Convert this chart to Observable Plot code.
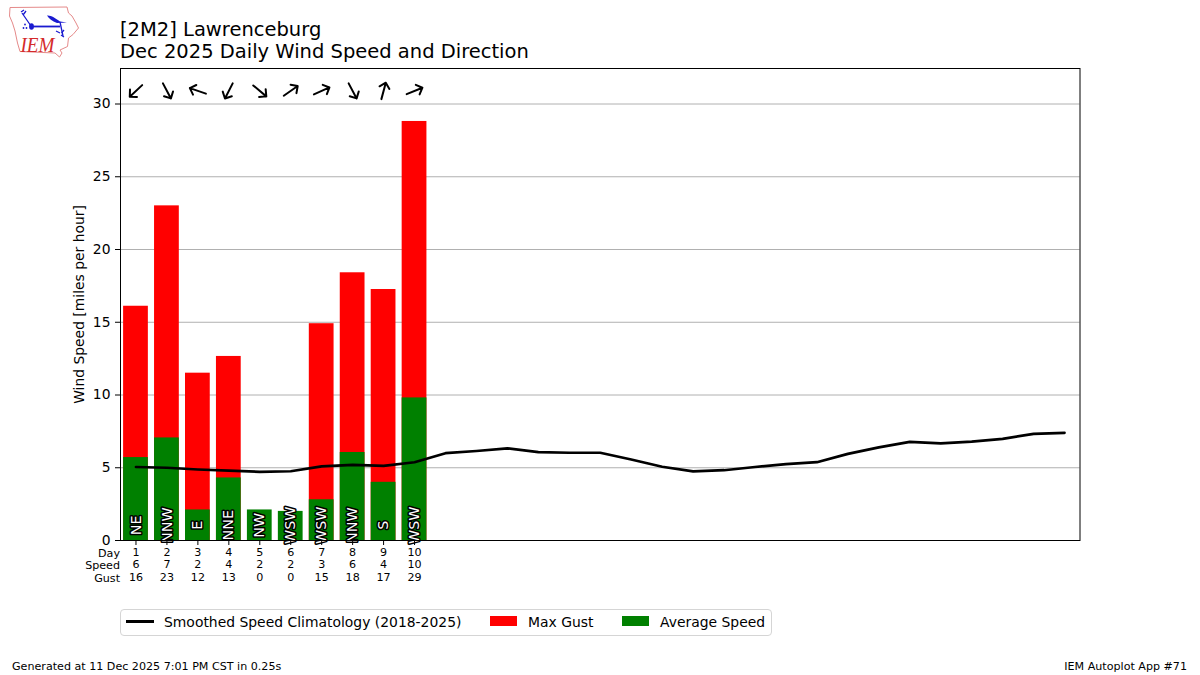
<!DOCTYPE html>
<html>
<head>
<meta charset="utf-8">
<script src="https://cdn.jsdelivr.net/npm/d3@7"></script>
<script src="https://cdn.jsdelivr.net/npm/@observablehq/plot@0.6"></script>
<style>
html,body{margin:0;padding:0;background:#fff;width:1200px;height:675px;overflow:hidden;font-family:"DejaVu Sans",sans-serif;color:#000}
#chart{position:absolute;left:0;top:0}
#chart svg{font-family:"DejaVu Sans",sans-serif;background:transparent;overflow:visible}
#title{position:absolute;left:120px;top:19px;font-size:19.5px;line-height:22px;white-space:nowrap}
#legend{position:absolute;left:120px;top:609px;width:650px;height:25px;border:1px solid #d5d5d5;border-radius:4px;background:#fff;font-size:13.92px;box-sizing:content-box}
#legend span{position:absolute;top:0;line-height:24px;white-space:nowrap}
#legend i{position:absolute;display:block}
.foot{position:absolute;top:660px;font-size:11.11px;line-height:13px;white-space:nowrap}
#logo{position:absolute;left:0;top:0}
</style>
</head>
<body>
<div id="chart"></div>
<svg id="logo" width="90" height="62" viewBox="0 0 90 62">
  <path d="M10 7.5L67 7L68.5 13L72 16L76 23L78.5 28L73 34.5L68.5 38L67.5 46.5L60 50L62 53L59.5 57L55 53L20 51.5L17.5 43L15 31L12.5 23L9.5 16Z" fill="#fff" stroke="#e58a8a" stroke-width="1"/>
  <path d="M22 13L31 26M23 15L26 11M21 12L24 10M60 22L63 36" fill="none" stroke="#1a1ad0" stroke-width="1.3"/>
  <path d="M31 26.5H60" fill="none" stroke="#1a1ad0" stroke-width="1.8"/>
  <ellipse cx="31.5" cy="26.5" rx="2.4" ry="3.2" fill="#1a1ad0"/>
  <path d="M47 15.5C51 15 55 18 60 21.5L67 22.5L57 23C52 21.5 49 18.5 47 15.5Z" fill="#1a1ad0"/>
  <path d="M56 31L60 33M64 30L61.5 33M61 35L64 37" fill="none" stroke="#1a1ad0" stroke-width="1.2"/>
  <circle cx="25" cy="24.5" r="0.9" fill="#1a1ad0"/><circle cx="23.5" cy="28" r="0.9" fill="#1a1ad0"/><circle cx="26.5" cy="28" r="0.9" fill="#1a1ad0"/>
  <text x="20.5" y="52" font-family="Liberation Serif" font-style="italic" font-size="20" fill="#d42a2a" textLength="34" lengthAdjust="spacingAndGlyphs">IEM</text>
</svg>
<div id="title">[2M2] Lawrenceburg<br>Dec 2025 Daily Wind Speed and Direction</div>
<div id="legend"></div>
<div class="foot" style="left:12px">Generated at 11 Dec 2025 7:01 PM CST in 0.25s</div>
<div class="foot" style="right:13px">IEM Autoplot App #71</div>
<script>
const days = [1,2,3,4,5,6,7,8,9,10];
const avgSpeed = [5.7,7.05,2.1,4.3,2.1,2.0,2.8,6.05,4.0,9.8];
const maxGust = [16.1,23.0,11.5,12.65,0,0,14.9,18.4,17.25,28.8];
const speedLabels = [6,7,2,4,2,2,3,6,4,10];
const gustLabels = [16,23,12,13,0,0,15,18,17,29];
const dirLabels = ["NE","NNW","E","NNE","NW","WSW","WSW","NNW","S","WSW"];
const arrowBearing = [227,152,289,207,130,55,66,152,15,68];
const climoDays = [1,2,3,4,5,6,7,8,9,10,11,12,13,14,15,16,17,18,19,20,21,22,23,24,25,26,27,28,29,30,31];
const climoSpeed = [5.05,5.0,4.88,4.8,4.72,4.76,5.1,5.2,5.13,5.38,6.0,6.15,6.33,6.08,6.03,6.03,5.57,5.07,4.75,4.83,5.05,5.25,5.38,5.95,6.4,6.78,6.67,6.8,6.98,7.33,7.4];
const yTicks = [0,5,10,15,20,25,30];
const gridTicks = [5,10,15,20,25,30];
const barHalf = 0.4;
const arrowLevel = 30.9;
const font = 13.89, small = 11.11;

const idx = days.map((_, i) => i);
const tickText = d => { const i = days.indexOf(d); return `${d}\n${speedLabels[i]}\n${gustLabels[i]}`; };
const shortHead = {
  draw(context, l) {
    const wing = l * 0.3;
    context.moveTo(0, 0);
    context.lineTo(0, -l);
    context.moveTo(-wing, wing - l);
    context.lineTo(0, -l);
    context.lineTo(wing, wing - l);
  }
};

const plot = Plot.plot({
  width: 1200, height: 675,
  marginLeft: 120, marginRight: 120.5, marginTop: 68, marginBottom: 135,
  style: {fontFamily: '"DejaVu Sans",sans-serif', color: "#000"},
  x: {type: "linear", domain: [0.5, 31.5]},
  y: {type: "linear", domain: [0, 32.44]},
  marks: [
    Plot.ruleY(gridTicks, {stroke: "#b0b0b0", strokeWidth: 1}),
    Plot.rectY(idx, {x1: i => days[i] - barHalf, x2: i => days[i] + barHalf, y1: 0, y2: i => maxGust[i], fill: "#ff0000", inset: 0}),
    Plot.rectY(idx, {x1: i => days[i] - barHalf, x2: i => days[i] + barHalf, y1: 0, y2: i => avgSpeed[i], fill: "#008000", inset: 0}),
    Plot.line(climoDays, {x: d => d, y: (d, i) => climoSpeed[i], stroke: "#000", strokeWidth: 2.7, curve: "linear"}),
    Plot.text(idx, {x: i => days[i], y: 1.05, text: i => dirLabels[i], rotate: -90, textAnchor: "middle", lineAnchor: "middle", fill: "#fff", stroke: "#000", strokeWidth: 3, paintOrder: "stroke", fontSize: 14.4}),
    Plot.vector(idx, {x: i => days[i], y: arrowLevel, rotate: i => arrowBearing[i], length: 17, anchor: "middle", shape: shortHead, stroke: "#000", strokeWidth: 2}),
    Plot.frame({stroke: "#000", strokeWidth: 1}),
    Plot.axisY({ticks: yTicks, tickSize: 5, tickPadding: 5, fontSize: font, label: "Wind Speed [miles per hour]", labelAnchor: "center", labelArrow: "none", labelOffset: 46, tickFormat: d => String(d)}),
    Plot.axisX({ticks: days, tickSize: 5, tickPadding: 2, fontSize: small, lineHeight: 1.1, label: null, tickFormat: tickText}),
    Plot.text(["Day\nSpeed\nGust"], {frameAnchor: "bottom-left", textAnchor: "end", lineAnchor: "top", dy: 8, dx: -0.5, fontSize: small, lineHeight: 1.1, fill: "#000"})
  ]
});
document.getElementById("chart").appendChild(plot);

const legendEntries = [
  {label: "Smoothed Speed Climatology (2018-2025)", kind: "line", color: "#000", sx: 5, tx: 43},
  {label: "Max Gust", kind: "box", color: "#ff0000", sx: 369, tx: 407},
  {label: "Average Speed", kind: "box", color: "#008000", sx: 501, tx: 539}
];
const lg = document.getElementById("legend");
for (const e of legendEntries) {
  const sw = document.createElement("i");
  sw.style.cssText = e.kind === "line"
    ? `left:${e.sx}px;top:10px;width:28px;height:3px;background:${e.color}`
    : `left:${e.sx}px;top:6px;width:27px;height:10px;background:${e.color}`;
  lg.appendChild(sw);
  const t = document.createElement("span");
  t.style.left = e.tx + "px";
  t.textContent = e.label;
  lg.appendChild(t);
}
</script>
</body>
</html>
